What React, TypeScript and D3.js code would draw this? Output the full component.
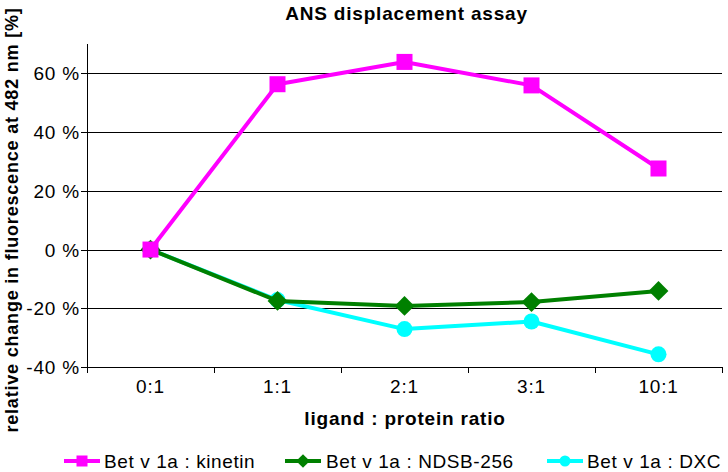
import React from "react";
import * as d3 from "d3";

const categories = ["0:1", "1:1", "2:1", "3:1", "10:1"];
const kinetin = [0, 56.3, 63.9, 55.9, 27.6];
const ndsb = [0, -17.5, -19.2, -17.9, -14.1];
const dxc = [0, -17.2, -27.1, -24.5, -35.7];
const yTicks = [-40, -20, 0, 20, 40, 60];

const W = 728, H = 472;
const L = 87, R = 722, T = 44, B = 367;
const FONT = "Liberation Sans, Arial, Helvetica, sans-serif";

export default function App() {
  const x = d3.scaleBand<string>().domain(categories).range([L, R]);
  const y = d3.scaleLinear().domain([-40, 70]).range([B, T]);
  const cx = (c: string) => (x(c) as number) + x.bandwidth() / 2;
  const line = (vals: number[]) =>
    d3.line<number>().x((_, i) => cx(categories[i])).y((v) => y(v))(vals) as string;

  const series = [
    { name: "Bet v 1a : kinetin", vals: kinetin, color: "#ff00ff", shape: "square" },
    { name: "Bet v 1a : NDSB-256", vals: ndsb, color: "#008000", shape: "diamond" },
    { name: "Bet v 1a : DXC", vals: dxc, color: "#00ffff", shape: "circle" },
  ];
  const drawOrder = [series[2], series[1], series[0]];

  const marker = (shape: string, px: number, py: number, color: string, s: number, key: any) => {
    if (shape === "square")
      return <rect key={key} x={px - s / 2} y={py - s / 2} width={s} height={s} fill={color} />;
    if (shape === "diamond") {
      const d = s * 0.62;
      return (
        <path key={key} d={`M${px},${py - d}L${px + d},${py}L${px},${py + d}L${px - d},${py}Z`} fill={color} />
      );
    }
    return <circle key={key} cx={px} cy={py} r={s / 2} fill={color} />;
  };

  const legendItems = [
    { s: series[0], lx: 64, tx: 104 },
    { s: series[1], lx: 285, tx: 326 },
    { s: series[2], lx: 547, tx: 587 },
  ];

  return (
    <svg width={W} height={H} style={{ display: "block", position: "absolute", left: 0, top: 0 }} fontFamily={FONT}>
      <rect width={W} height={H} fill="#fff" />
      <text x={406.5} y={19.5} textAnchor="middle" fontWeight="bold" fontSize={19} letterSpacing={0.8}>
        ANS displacement assay
      </text>
      {yTicks.map((t) => (
        <g key={t}>
          <line x1={L} x2={R} y1={Math.round(y(t)) + 0.5} y2={Math.round(y(t)) + 0.5} stroke="#000" strokeWidth={1} />
          <line x1={L - 6} x2={L} y1={Math.round(y(t)) + 0.5} y2={Math.round(y(t)) + 0.5} stroke="#000" />
          <text x={80} y={y(t) + 7} textAnchor="end" fontSize={19} letterSpacing={0.8}>
            {t} %
          </text>
        </g>
      ))}
      <line x1={L + 0.5} x2={L + 0.5} y1={T} y2={B} stroke="#000" />
      {categories.concat(["end"]).map((c, i) => {
        const xx = Math.round(L + i * x.step()) + 0.5;
        return <line key={i} x1={xx} x2={xx} y1={B} y2={B + 6} stroke="#000" />;
      })}
      {categories.map((c) => (
        <text key={c} x={cx(c)} y={393} textAnchor="middle" fontSize={19} letterSpacing={0.8}>
          {c}
        </text>
      ))}
      <text x={405} y={425} textAnchor="middle" fontWeight="bold" fontSize={19} letterSpacing={0.8}>
        ligand : protein ratio
      </text>
      <text transform={`translate(17.5,220) rotate(-90)`} textAnchor="middle" fontWeight="bold" fontSize={18} letterSpacing={0.8}>
        relative change in fluorescence at 482 nm [%]
      </text>
      {drawOrder.map((s) => (
        <g key={s.name}>
          <path d={line(s.vals)} fill="none" stroke={s.color} strokeWidth={4} strokeLinejoin="round" />
          {s.vals.map((v, i) => marker(s.shape, cx(categories[i]), y(v), s.color, 16, i))}
        </g>
      ))}
      {legendItems.map(({ s, lx, tx }) => (
        <g key={s.name}>
          <line x1={lx} x2={lx + 36} y1={461} y2={461} stroke={s.color} strokeWidth={4} />
          {marker(s.shape, lx + 18, 461, s.color, 11, "m")}
          <text x={tx} y={467.5} fontSize={19} letterSpacing={0.6}>
            {s.name}
          </text>
        </g>
      ))}
    </svg>
  );
}
